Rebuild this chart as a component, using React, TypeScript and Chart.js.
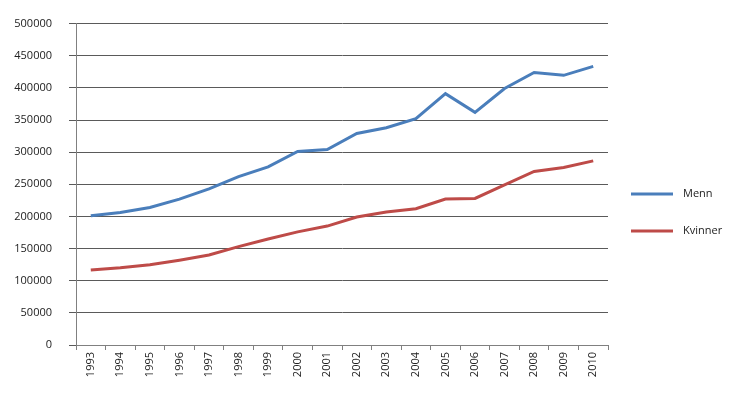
import React, { useEffect, useRef } from "react";
import { Chart, registerables } from "chart.js";

Chart.register(...registerables);

const years = ["1993","1994","1995","1996","1997","1998","1999","2000","2001","2002","2003","2004","2005","2006","2007","2008","2009","2010"];
const menn = [201000,206000,214000,227000,243000,262000,277000,301000,304000,329000,338000,352000,391000,362000,399000,424000,419500,433500];
const kvinner = [116500,120000,125000,132000,140000,153000,165000,176000,185000,199000,207000,212000,227000,228000,249000,270000,276000,286500];
const seriesNames = ["Menn", "Kvinner"];
const seriesColors = ["#4a7ebb", "#be4b48"];

const FONT = "'Open Sans', 'Noto Sans', sans-serif";

const legendPlugin = {
  id: "sideLegend",
  afterDraw(chart: any) {
    const ctx = chart.ctx;
    ctx.save();
    chart.data.datasets.forEach((ds: any, i: number) => {
      const y = 194 + i * 37;
      ctx.strokeStyle = ds.borderColor;
      ctx.lineWidth = 3;
      ctx.beginPath();
      ctx.moveTo(631, y);
      ctx.lineTo(673, y);
      ctx.stroke();
      ctx.fillStyle = "#222";
      ctx.font = `11px ${FONT}`;
      ctx.textBaseline = "middle";
      ctx.textAlign = "left";
      ctx.fillText(ds.label, 683, y);
    });
    ctx.restore();
  },
};

export default function App() {
  const ref = useRef<HTMLCanvasElement>(null);
  useEffect(() => {
    document.body.style.margin = "0";
    const chart = new Chart(ref.current as HTMLCanvasElement, {
      type: "line",
      data: {
        labels: years,
        datasets: [
          { label: seriesNames[0], data: menn, borderColor: seriesColors[0], backgroundColor: seriesColors[0], borderWidth: 3, pointRadius: 0, tension: 0 },
          { label: seriesNames[1], data: kvinner, borderColor: seriesColors[1], backgroundColor: seriesColors[1], borderWidth: 3, pointRadius: 0, tension: 0 },
        ],
      },
      options: {
        animation: false,
        responsive: false,
        layout: { autoPadding: false, padding: { top: 20, right: 122, left: 0, bottom: 0 } },
        plugins: { legend: { display: false }, tooltip: { enabled: false } },
        scales: {
          x: {
            offset: true,
            grid: { drawOnChartArea: false, drawTicks: true, tickLength: 5, offset: true, color: "#808080" },
            border: { display: true, color: "#808080" },
            ticks: { minRotation: 90, maxRotation: 90, autoSkip: false, padding: 2, color: "#222", font: { family: FONT, size: 11 } },
            afterFit(scale: any) { scale.height = 53; },
          },
          y: {
            min: 0,
            max: 500000,
            grid: { color: "#5a5a5a", lineWidth: 1, tickLength: 7, drawTicks: true },
            border: { display: true, color: "#808080" },
            ticks: { stepSize: 50000, padding: 17, color: "#222", font: { family: FONT, size: 11 }, callback: (v: any) => String(v) },
            afterFit(scale: any) { scale.width = 76; },
          },
        },
      },
      plugins: [legendPlugin],
    } as any);
    return () => chart.destroy();
  }, []);
  return <canvas ref={ref} width={730} height={398} style={{ display: "block" }} />;
}
